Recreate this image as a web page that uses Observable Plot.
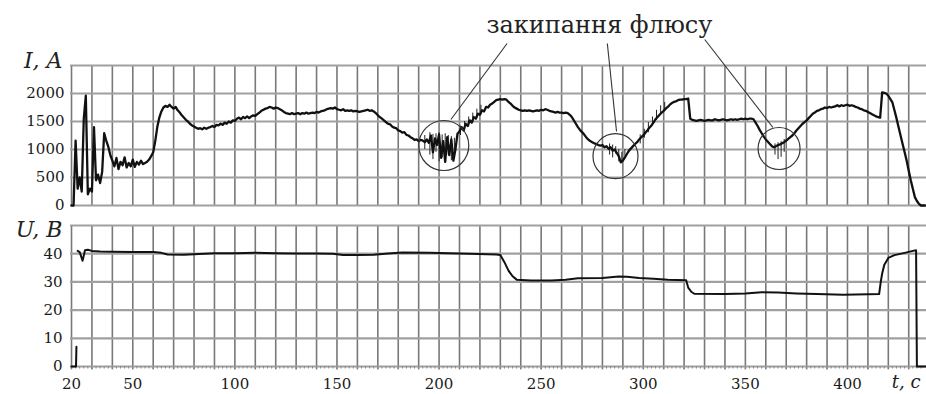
<!DOCTYPE html>
<html>
<head>
<meta charset="utf-8">
<script src="https://cdn.jsdelivr.net/npm/d3@7"></script>
<script src="https://cdn.jsdelivr.net/npm/@observablehq/plot@0.6"></script>
<style>
  body { margin: 0; background: #fff; }
  #chart svg { display: block; }
</style>
</head>
<body>
<div id="chart"></div>
<script>
// ---------- data ----------
// Welding current I (A), sampled every 1 s starting at t = 20 s
const currentT0 = 20;
const currentStep = 1;
const currentI = [
  0, 0, 1160, 300, 500, 250, 1550, 1960, 200, 300,
  250, 1400, 450, 550, 400, 600, 1290, 1160, 1050, 900,
  800, 700, 850, 650, 780, 720, 860, 680, 760, 700,
  820, 690, 780, 730, 800, 740, 760, 780, 820, 880,
  950, 1150, 1400, 1570, 1680, 1750, 1780, 1760, 1800, 1760,
  1730, 1760, 1700, 1660, 1610, 1570, 1530, 1500, 1460, 1430,
  1410, 1390, 1370, 1380, 1360, 1390, 1370, 1390, 1400, 1420,
  1400, 1440, 1430, 1460, 1440, 1480, 1460, 1500, 1480, 1520,
  1510, 1550, 1570, 1540, 1580, 1560, 1590, 1560, 1590, 1610,
  1600, 1630, 1660, 1690, 1710, 1730, 1740, 1760, 1750, 1730,
  1750, 1740, 1720, 1700, 1670, 1650, 1640, 1630, 1650, 1630,
  1640, 1650, 1630, 1650, 1640, 1660, 1640, 1650, 1660, 1650,
  1670, 1660, 1680, 1690, 1700, 1720, 1730, 1740, 1730, 1750,
  1720, 1710, 1700, 1720, 1690, 1700, 1690, 1700, 1680, 1690,
  1680, 1670, 1680, 1690, 1700, 1710, 1690, 1700, 1680, 1650,
  1610, 1580, 1550, 1520, 1490, 1460, 1450, 1410, 1390, 1380,
  1340, 1330, 1300, 1310, 1260, 1250, 1220, 1200, 1170, 1180,
  1150, 1170, 1160, 1130, 1180, 1120, 1250, 950, 1200, 1080,
  1270, 850, 1150, 780, 1220, 900, 1180, 800, 1000, 1280,
  1320, 1400, 1340, 1460, 1420, 1520, 1480, 1580, 1550, 1640,
  1620, 1700, 1680, 1760, 1750, 1800, 1820, 1850, 1880, 1890,
  1900, 1890, 1900, 1890, 1850, 1820, 1780, 1750, 1730, 1710,
  1700, 1690, 1700, 1690, 1700, 1690, 1680, 1690, 1700, 1690,
  1710, 1700, 1720, 1710, 1690, 1680, 1670, 1660, 1670, 1660,
  1660, 1650, 1660, 1650, 1620, 1580, 1520, 1460, 1400, 1350,
  1310, 1270, 1220, 1180, 1150, 1130, 1110, 1100, 1080, 1070,
  1080, 1040, 1060, 1010, 1040, 980, 1000, 940, 880, 770,
  800, 860, 920, 980, 1020, 1060, 1100, 1130, 1180, 1220,
  1250, 1300, 1340, 1390, 1430, 1480, 1540, 1580, 1620, 1660,
  1690, 1730, 1760, 1800, 1830, 1850, 1860, 1880, 1890, 1890,
  1900, 1900, 1910, 1550, 1530, 1520, 1510, 1520, 1530, 1520,
  1510, 1520, 1530, 1520, 1520, 1540, 1530, 1520, 1530, 1540,
  1530, 1520, 1530, 1540, 1530, 1540, 1530, 1540, 1550, 1540,
  1550, 1540, 1550, 1550, 1540, 1480, 1420, 1350, 1290, 1230,
  1180, 1140, 1100, 1060, 1040, 1060, 1080, 1090, 1110, 1130,
  1160, 1190, 1220, 1250, 1290, 1340, 1380, 1420, 1460, 1490,
  1520, 1560, 1600, 1640, 1660, 1690, 1700, 1720, 1730, 1750,
  1740, 1760, 1750, 1760, 1770, 1790, 1770, 1790, 1780, 1790,
  1800, 1780, 1790, 1780, 1760, 1750, 1730, 1720, 1700, 1690,
  1670, 1650, 1630, 1610, 1590, 1580, 1570, 2020, 2010, 2000,
  1960, 1900, 1840, 1700, 1560, 1400, 1250, 1100, 950, 800,
  620, 450, 300, 150, 80, 30, 0, 0, 0
];

// Flux-boiling spikes and noise band in the current trace
const spikeT    = [193, 195.5, 197, 198.5, 200, 201.5, 203, 204.5, 206, 207.5,
                   210.5, 212.5, 214.5, 216.5, 218.5, 220.5,
                   283.5, 285, 286.5, 288, 289.5, 291,
                   298.5, 300.5, 302.5, 304.5, 306.5, 308.5, 310.5,
                   364.5, 366, 367.5, 369];
const spikeLow  = [1000, 900, 820, 950, 780, 850, 760, 900, 800, 950,
                   1250, 1330, 1400, 1480, 1550, 1620,
                   900, 850, 920, 780, 760, 880,
                   1100, 1200, 1300, 1420, 1520, 1620, 1700,
                   900, 820, 860, 950];
const spikeHigh = [1250, 1300, 1270, 1280, 1300, 1260, 1280, 1250, 1230, 1200,
                   1420, 1500, 1580, 1650, 1720, 1790,
                   1100, 1080, 1050, 1000, 950, 1000,
                   1260, 1360, 1480, 1580, 1700, 1780, 1840,
                   1100, 1120, 1140, 1180];

// Arc voltage U (V)
const voltageT = [20, 22.2, 22.4, 22.5, 23, 24, 25.4, 26.6, 28, 30, 34, 40, 50, 60, 64, 67, 75, 80, 90, 100, 110, 120, 130, 140, 148, 153, 160, 168, 175, 182, 195, 205, 215, 228, 230, 232, 234, 236, 238, 245, 255, 262, 268, 280, 288, 292, 298, 305, 312, 321, 322, 323.5, 325, 340, 350, 358, 366, 375, 385, 398, 410, 415.5, 416.3, 417, 418, 420, 423, 428, 432, 433.6, 434, 438.7];
const voltageU = [0, 0, 7, NaN, 41, 40.6, 37.5, 41.2, 41.4, 41, 40.8, 40.7, 40.6, 40.6, 40.3, 39.7, 39.6, 39.8, 40.2, 40.2, 40.3, 40.2, 40.1, 40.1, 40, 39.5, 39.5, 39.6, 40.1, 40.4, 40.3, 40.2, 40, 39.7, 39.5, 37, 34, 32, 30.8, 30.5, 30.5, 30.8, 31.3, 31.4, 31.9, 31.8, 31.4, 31.1, 30.8, 30.6, 28, 26.5, 25.8, 25.7, 25.9, 26.3, 26.2, 25.9, 25.7, 25.4, 25.6, 25.7, 30, 33, 36, 38.5, 39.5, 40.3, 41, 41.2, 0, 0];

// Axes
const tickT = [20, 50, 100, 150, 200, 250, 300, 350, 400];
const gridT = [20, 30, 40, 50, 60, 70, 80, 90, 100, 110, 120, 130, 140, 150, 160, 170, 180, 190, 200, 210, 220, 230, 240, 250, 260, 270, 280, 290, 300, 310, 320, 330, 340, 350, 360, 370, 380, 390, 400, 410, 420, 430];
const tickI = [0, 500, 1000, 1500, 2000];
const gridI = [0, 500, 1000, 1500, 2000, 2500];
const tickU = [0, 10, 20, 30, 40];
const gridU = [0, 10, 20, 30, 40, 50];

// Annotation
const annotationText = "закипання флюсу";
const annotationAt = {t: 278.5, I: 3214};
const circleT = [202.3, 286.4, 366.5];
const circleI = [1071, 880, 1018];
const circleR = [25, 22.5, 21];
const leaderFromT = [233.3, 282.4, 330.1];
const leaderFromI = [2893, 2893, 2964];
const leaderToT = [205.8, 286.9, 363.5];
const leaderToI = [1536, 1321, 1393];

// ---------- build ----------
const iData = currentI.map((v, i) => ({t: currentT0 + i * currentStep, I: v}));
const spikes = spikeT.map((t, i) => ({t, lo: spikeLow[i], hi: spikeHigh[i]}));
const uData = voltageT.map((t, i) => ({t, U: voltageU[i]}));
const circles = circleT.map((t, i) => ({t, I: circleI[i], r: circleR[i]}));
const leaders = leaderFromT.map((t, i) => ({t1: t, I1: leaderFromI[i], t2: leaderToT[i], I2: leaderToI[i]}));
const minorT = d3.range(20, 438, 2);

const W = 926;
const xDomain = [19.5, 438.7];
const serif = "'DejaVu Serif', 'Liberation Serif', serif";
const fmt = d => String(d);
const vGrid = {stroke: "#787878", strokeWidth: 1.6};
const hGrid = {stroke: "#a0a0a0", strokeWidth: 2.2};
const axisStyle = {fontFamily: serif, fontSize: "15px", color: "#1a1a1a", background: "#fff", overflow: "visible"};

const topPlot = Plot.plot({
  width: W, height: 210,
  marginLeft: 70, marginRight: 0, marginTop: 65, marginBottom: 5,
  style: axisStyle,
  x: {domain: xDomain, axis: null},
  y: {domain: [0, 2500], ticks: tickI, tickSize: 0, tickPadding: 6, tickFormat: fmt, label: null},
  r: {type: "identity"},
  marks: [
    Plot.ruleX(gridT, {y1: 0, y2: 2500, ...vGrid}),
    Plot.ruleY(gridI, hGrid),
    Plot.ruleX(spikes, {x: "t", y1: "lo", y2: "hi", stroke: "#222", strokeWidth: 1}),
    Plot.line(iData, {x: "t", y: "I", stroke: "#111", strokeWidth: 2.3, strokeLinejoin: "round"}),
    Plot.dot(circles, {x: "t", y: "I", r: "r", stroke: "#333", strokeWidth: 1.2, fill: "none"}),
    Plot.link(leaders, {x1: "t1", y1: "I1", x2: "t2", y2: "I2", stroke: "#333", strokeWidth: 1.1}),
    Plot.text([annotationText], {x: annotationAt.t, y: annotationAt.I, text: d => d, fontSize: 24, fill: "#222", lineAnchor: "middle"}),
    Plot.text(["I, A"], {x: xDomain[0], y: 2500, text: d => d, dx: -8, dy: -5, textAnchor: "end", lineAnchor: "middle", fontSize: 22, fontStyle: "italic", fill: "#222"})
  ]
});

const bottomPlot = Plot.plot({
  width: W, height: 184,
  marginLeft: 70, marginRight: 0, marginTop: 15, marginBottom: 28,
  style: axisStyle,
  x: {domain: xDomain, ticks: tickT, tickSize: 0, tickPadding: 12, tickFormat: fmt, label: null},
  y: {domain: [0, 50], ticks: tickU, tickSize: 0, tickPadding: 8, tickFormat: fmt, label: null},
  marks: [
    Plot.ruleX(gridT, {y1: -1.2, y2: 50, ...vGrid}),
    Plot.ruleY(gridU, hGrid),
    Plot.ruleX(minorT, {y1: -0.9, y2: 0, stroke: "#888", strokeWidth: 1}),
    Plot.line(uData, {x: "t", y: "U", stroke: "#111", strokeWidth: 2, strokeLinejoin: "round"}),
    Plot.text(["U, B"], {x: xDomain[0], y: 50, text: d => d, dx: -8, dy: 4, textAnchor: "end", lineAnchor: "middle", fontSize: 22, fontStyle: "italic", fill: "#222"}),
    Plot.text(["t, c"], {x: xDomain[1], y: 0, text: d => d, dx: -6, dy: 16, textAnchor: "end", lineAnchor: "middle", fontSize: 18, fontStyle: "italic", fill: "#222"})
  ]
});

const chart = document.getElementById("chart");
chart.appendChild(topPlot);
chart.appendChild(bottomPlot);
</script>
</body>
</html>
